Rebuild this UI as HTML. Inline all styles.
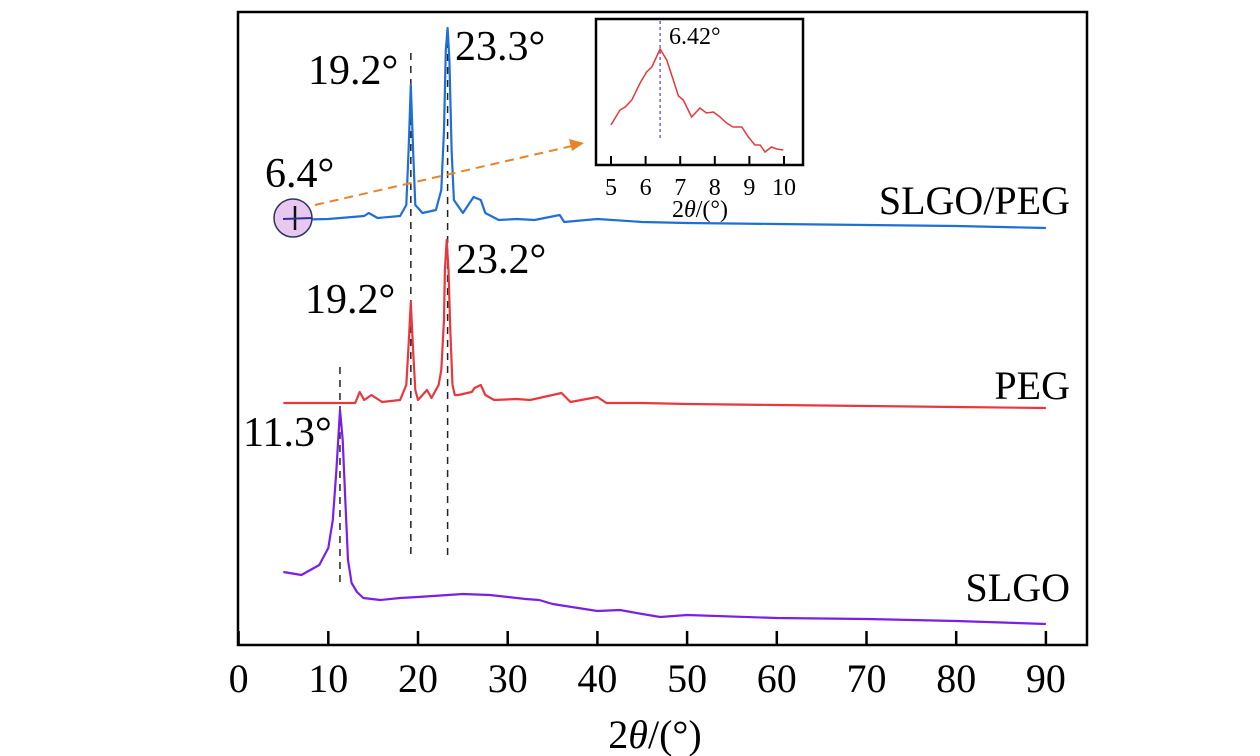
<!DOCTYPE html>
<html><head><meta charset="utf-8"><style>
html,body{margin:0;padding:0;background:#fff;}
svg{display:block;font-family:"Liberation Serif",serif;}
</style></head><body>
<svg id="chart" width="1260" height="756" viewBox="0 0 1260 756" xmlns="http://www.w3.org/2000/svg">
<g id="plot"></g>
</svg>
<script>
// ----- main chart data (2θ in degrees, intensity in arbitrary offset units) -----
const xTicks = [0,10,20,30,40,50,60,70,80,90];
const slgoX = [5,7,9,10,10.5,10.9,11.3,11.6,11.9,12.2,12.6,13.2,13.9,15.8,18,20,25,28,32,33.5,35,40,42.5,45,47,50,60,70,80,90];
const slgoY = [68,65,75,92,120,170,230,200,140,80,57,48,42,40,42,43,46,45,41,40,36,29,30,26,23,25,22,21,19,16];
const pegX = [5,10,13,13.5,14,14.8,16,18,18.7,18.95,19.2,19.45,19.7,20,21,21.5,22.3,22.6,22.9,23.0,23.2,23.4,23.6,23.85,24.1,24.5,26,26.3,27,27.5,28.5,31,32.5,33.5,36,37,40,41,45,50,60,70,80,90];
const pegY = [237,237,237,248,240,245,238,240,255,295,338,290,250,240,250,242,255,270,320,370,400,370,310,255,245,245,248,252,255,245,240,241,240,242,247,238,243,237,237,236,235,234,233,232];
const compX = [5,10,14,14.5,15.5,18,18.7,18.95,19.2,19.45,19.7,20.5,22,22.6,22.9,23.1,23.3,23.5,23.75,24,25,26.2,27,27.5,29,31,33,35.8,36.3,40,45,50,60,70,80,90];
const compY = [420,421,424,427,422,424,435,490,555,490,435,427,430,450,510,590,612,580,490,440,427,443,440,427,420,421,420,425,418,421,418,417,416,415,414,412];
// ----- inset data -----
const insetTicks = [5,6,7,8,9,10];
const insetX = [5.0,5.26,5.41,5.6,5.84,6.03,6.18,6.42,6.61,6.8,6.95,7.09,7.33,7.57,7.76,7.96,8.15,8.34,8.53,8.78,8.97,9.16,9.31,9.45,9.64,9.79,9.98];
const insetY = [40,55,58,65,82,93,98,116,105,85,69,65,48,57,52,53,48,42,38,38,28,20,20,13,18,16,15];

const NS="http://www.w3.org/2000/svg";
const plot=document.getElementById('plot');
function mk(tag,attrs,parent){const e=document.createElementNS(NS,tag);for(const k in attrs)e.setAttribute(k,attrs[k]);(parent||plot).appendChild(e);return e;}
const X0=238.6, XS=8.97;
function xs(v){return X0+v*XS;}
function ys(v){return 640-v;}
function ixs(v){return 611+(v-5)*34.6;}
function iys(v){return 165-v;}

let fr=mk('rect',{x:238,y:12,width:849,height:633,fill:'none',stroke:'#000','stroke-width':2.5});



xTicks.forEach(t=>{
  let l=mk('line',{x1:xs(t),x2:xs(t),y1:645,y2:631,stroke:'#000','stroke-width':2.5});
  
  
  let tx=mk('text',{x:xs(t),y:692,'text-anchor':'middle','font-size':40});
  tx.textContent=t;
  
  
});
let xt=mk('text',{x:655,y:748,'text-anchor':'middle','font-size':40});
xt.innerHTML='2<tspan font-style="italic">θ</tspan>/(°)';



function vline(v,y1,y2,name){let l=mk('line',{x1:xs(v),x2:xs(v),y1:y1,y2:y2,stroke:'#222','stroke-width':1.5,'stroke-dasharray':'7,6'});
  
  }
vline(11.3,367,588,'ref-line-11-3');
vline(19.2,53,558,'ref-line-19-2');
vline(23.3,28,560,'ref-line-23-3');

function series(xa,ya,color,name){
  const d=xa.map((x,i)=>(i?'L':'M')+xs(x).toFixed(1)+','+ys(ya[i]).toFixed(1)).join(' ');
  let p=mk('path',{d:d,fill:'none',stroke:color,'stroke-width':2.2,'stroke-linejoin':'round'});
  
  
}
series(slgoX,slgoY,'#7a1fe8','series-slgo');
series(pegX,pegY,'#e8383d','series-peg');
series(compX,compY,'#1f6fd6','series-slgo-peg');

let c=mk('circle',{cx:293,cy:218,r:19,fill:'#e9c8f0',stroke:'#2a3560','stroke-width':1.5});


let c1=mk('line',{x1:295,x2:295,y1:206,y2:230,stroke:'#111','stroke-width':2.5});


let c2=mk('line',{x1:283,x2:312,y1:219,y2:218,stroke:'#2a3590','stroke-width':2});


let ar=mk('line',{x1:315,y1:205,x2:572,y2:146,stroke:'#e8832a','stroke-width':2,'stroke-dasharray':'9,6'});


let ah=mk('polygon',{points:'584,143 569,139 572,151',fill:'#e8832a'});



function label(x,y,txt,name,size,anchor){let t=mk('text',{x:x,y:y,'font-size':size||42,'text-anchor':anchor||'start'});t.textContent=txt;
  
  }
label(308,84,'19.2°','peak-label-19-2-comp');
label(455,60,'23.3°','peak-label-23-3');
label(265,187,'6.4°','peak-label-6-4');
label(305,313,'19.2°','peak-label-19-2-peg');
label(456,273,'23.2°','peak-label-23-2');
label(243,446,'11.3°','peak-label-11-3');
label(1070,214,'SLGO/PEG','series-label-slgo-peg',40,'end');
label(1070,399,'PEG','series-label-peg',40,'end');
label(1070,601,'SLGO','series-label-slgo',40,'end');

let ib=mk('rect',{x:596,y:19,width:207,height:146,fill:'#fff',stroke:'#000','stroke-width':2.5});


insetTicks.forEach(t=>{
  let l=mk('line',{x1:ixs(t),x2:ixs(t),y1:165,y2:156,stroke:'#000','stroke-width':2});
  
  
  let tx=mk('text',{x:ixs(t),y:195,'text-anchor':'middle','font-size':24});
  tx.textContent=t;
  
  
});
let idl=mk('line',{x1:ixs(6.42),x2:ixs(6.42),y1:21,y2:140,stroke:'#6a6ad0','stroke-width':1.5,'stroke-dasharray':'3,3'});


const idd=insetX.map((x,i)=>(i?'L':'M')+ixs(x).toFixed(1)+','+iys(insetY[i]).toFixed(1)).join(' ');
let ip=mk('path',{d:idd,fill:'none',stroke:'#e8383d','stroke-width':1.5});


label(669,44,'6.42°','inset-peak-label',24);
let it=mk('text',{x:700,y:217,'text-anchor':'middle','font-size':24});
it.innerHTML='2<tspan font-style="italic">θ</tspan>/(°)';


</script>
</body></html>
